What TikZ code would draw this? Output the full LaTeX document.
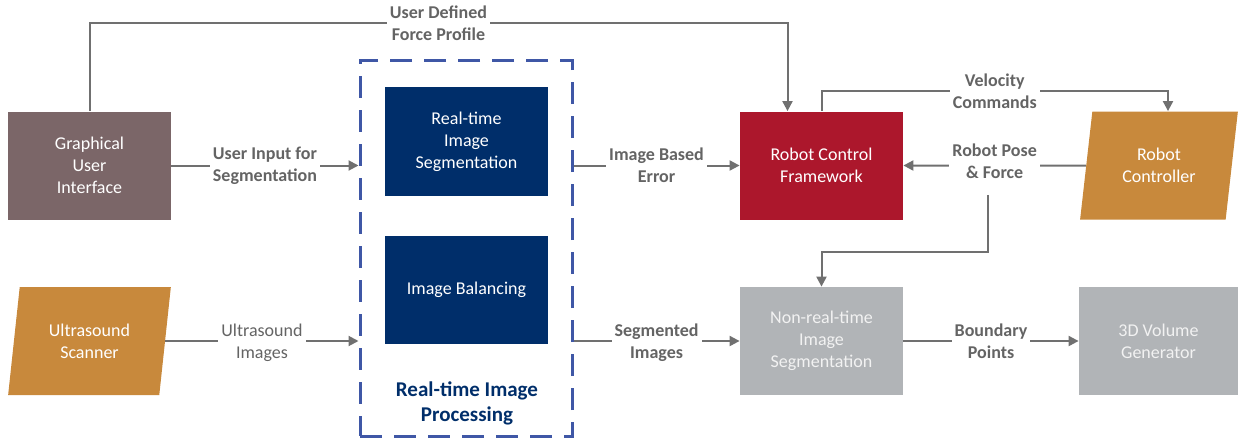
\documentclass[tikz,border=0pt]{standalone}
\usepackage{fontspec}
\setmainfont{Carlito}
\usetikzlibrary{arrows.meta,shapes.geometric}
\definecolor{guibrown}{RGB}{123,102,104}
\definecolor{usorange}{RGB}{200,137,60}
\definecolor{navy}{RGB}{0,46,106}
\definecolor{rcfred}{RGB}{172,23,44}
\definecolor{boxgray}{RGB}{177,180,183}
\definecolor{softwhite}{RGB}{242,242,242}
\definecolor{dashblue}{RGB}{63,87,166}
\definecolor{linkgray}{RGB}{112,112,112}
\definecolor{lblgray}{RGB}{100,100,100}
\tikzset{
  block/.style={inner sep=0pt, align=center, text=white, minimum width=81.5pt,
    minimum height=54pt, font=\fontsize{9}{11}\selectfont},
  para/.style={block, trapezium, trapezium stretches=true,
    trapezium left angle=79, trapezium right angle=101},
  container/.style={draw=dashblue, line width=1.5pt, dash pattern=on 11pt off 6pt,
    minimum width=106pt, minimum height=188pt, inner sep=0pt},
  boxtitle/.style={align=center, text=navy, font=\bfseries\fontsize{10.5}{12.5}\selectfont},
  lbl/.style={fill=white, inner sep=1.5pt, align=center, text=lblgray,
    font=\bfseries\fontsize{9}{11}\selectfont},
  link/.style={draw=linkgray, line width=1pt, ->},
}
\begin{document}
\begin{tikzpicture}[x=0.5pt, y=-0.5pt, >={Triangle[length=5pt,width=5pt]}]
\useasboundingbox (0,0) rectangle (1238,440);
% sources
\node[block, fill=guibrown] (gui) at (89.5,165.5) {Graphical\\User\\Interface};
\node[para, fill=usorange] (us) at (89.5,341) {Ultrasound\\Scanner};
% real-time processing group
\node[container] (rtp) at (466,248) {};
\node[block, fill=navy, minimum height=54.5pt] (seg) at (466.5,141.5) {Real-time\\Image\\Segmentation};
\node[block, fill=navy] (bal) at (466.5,290) {Image Balancing};
\node[boxtitle] (rtpname) at (467,403) {Real-time Image\\Processing};
% robot side
\node[block, fill=rcfred] (rcf) at (821.5,165.5) {Robot Control\\Framework};
\node[para, fill=usorange, minimum width=79pt] (rc) at (1159,165.5) {Robot\\Controller};
\node[block, fill=boxgray, text=softwhite] (nrt) at (821.5,341) {Non-real-time\\Image\\Segmentation};
\node[block, fill=boxgray, text=softwhite, minimum width=79.5pt] (vol) at (1158.5,341) {3D Volume\\Generator};
% connectors
\draw[link] (gui.north) -- ++(0,-88) -| node[lbl, pos=.25]{User Defined\\Force Profile} ([xshift=-17pt]rcf.north);
\draw[link] (gui.east) -- node[lbl]{User Input for\\Segmentation} (gui.east -| rtp.west);
\draw[link] (us.east) -- node[lbl, yshift=-1pt, font=\fontsize{9}{11}\selectfont]{Ultrasound\\Images} (us.east -| rtp.west);
\draw[link] (rtp.east |- rcf.west) -- node[lbl]{Image Based\\Error} (rcf.west);
\draw[link] (rtp.east |- nrt.west) -- node[lbl, yshift=-1pt]{Segmented\\Images} (nrt.west);
\draw[link] (rcf.north) -- ++(0,-20) -| node[lbl, pos=.25]{Velocity\\Commands} ([xshift=4.5pt]rc.north);
\draw[link] (rc.west) -- node[lbl, yshift=2pt] (pose) {Robot Pose\\\& Force} (rcf.east);
\draw[link] ([xshift=-3.5pt, yshift=-6pt]pose.south) -- ++(0,57) -| (nrt.north);
\draw[link] (nrt.east) -- node[lbl]{Boundary\\Points} (vol.west);
\end{tikzpicture}
\end{document}
